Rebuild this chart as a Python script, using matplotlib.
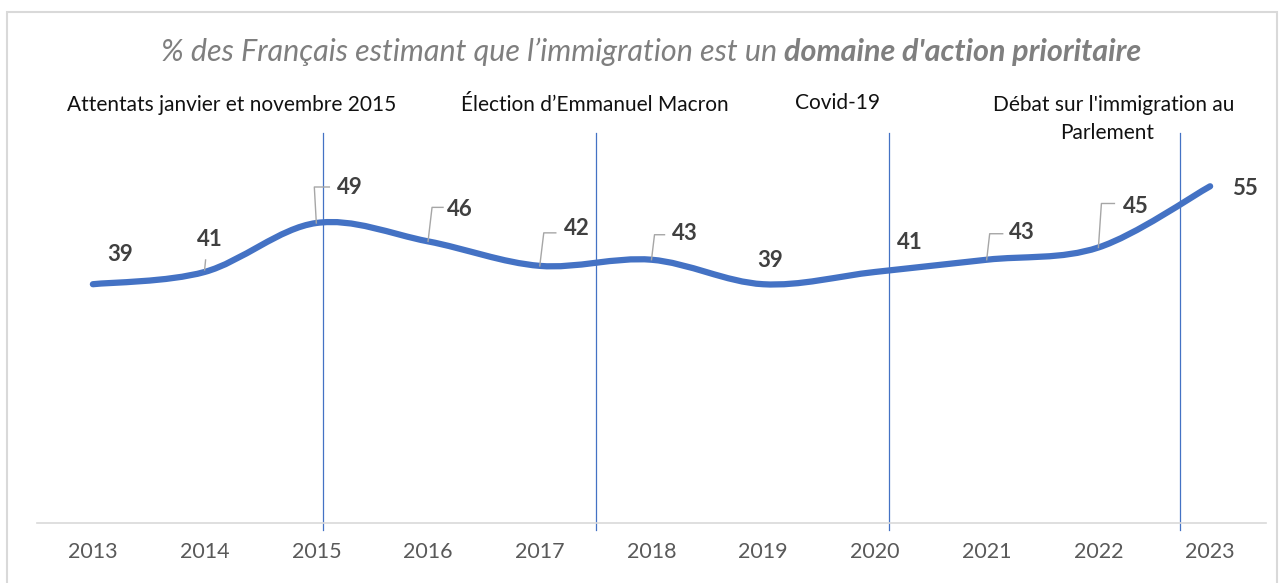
import numpy as np
import matplotlib
matplotlib.use("Agg")
import matplotlib.pyplot as plt
from matplotlib.path import Path
from matplotlib.patches import PathPatch, Rectangle
from matplotlib.lines import Line2D

plt.rcParams['font.family'] = ['Lato', 'DejaVu Sans']

years = ['2013', '2014', '2015', '2016', '2017', '2018', '2019', '2020', '2021', '2022', '2023']
values = [39, 41, 49, 46, 42, 43, 39, 41, 43, 45, 55]

events = ['Attentats janvier et novembre 2015', 'Élection d’Emmanuel Macron', 'Covid-19',
          "Débat sur l'immigration au"]
event_pos = [2.06, 4.5, 7.13, 9.73]

# label offsets in pixels (dx, dy up) from each point
lab_off = [(27, 30), (5, 32), (34, 35), (32, 32), (37, 37), (33, 26),
           (7, 24), (35, 29), (35, 27), (37, 41), (35, -2)]
# leader lines: index -> (corner dx, dy, end dx)
leaders = {1: (1, 12, None), 2: (-2, 36, 13), 3: (4, 34, 15), 4: (4, 33, 16),
           5: (3, 25, 13), 8: (3, 26, 16), 9: (3, 44, 16)}

W, H = 1285, 583
fig = plt.figure(figsize=(W / 100, H / 100), dpi=100)
fig.patches.append(Rectangle((7 / W, -0.1), 1270 / W, (583 - 12) / H + 0.1,
                             transform=fig.transFigure, fill=False,
                             edgecolor='#d9d9d9', lw=1.5))

ax = fig.add_axes([37 / W, (H - 523) / H, 1229 / W, 390 / H])
ax.set_xlim(-0.5, 10.5)
ax.set_ylim(0, 63.7)
for s in ['left', 'right', 'top']:
    ax.spines[s].set_visible(False)
ax.spines['bottom'].set_color('#d9d9d9')
ax.spines['bottom'].set_linewidth(1.2)
ax.set_yticks([])
x = np.arange(len(years))
ax.set_xticks(x)
ax.set_xticklabels(years, fontsize=15.5, color='#595959')
ax.tick_params(axis='x', length=0, pad=14)

# smoothed line (Excel-like bezier)
pts = np.column_stack([x, values]).astype(float)
ext = np.vstack([pts[0], pts, pts[-1]])
verts = [tuple(pts[0])]
codes = [Path.MOVETO]
for i in range(len(pts) - 1):
    p0, p1, p2, p3 = ext[i], ext[i + 1], ext[i + 2], ext[i + 3]
    c1 = p1 + (p2 - p0) / 6
    c2 = p2 - (p3 - p1) / 6
    verts += [tuple(c1), tuple(c2), tuple(p2)]
    codes += [Path.CURVE4] * 3
ax.add_patch(PathPatch(Path(verts, codes), fill=False, edgecolor='#4472c4',
                       lw=4.5, capstyle='round', zorder=3))

# event lines
for p in event_pos:
    ax.plot([p, p], [-1.2, 63.7], color='#4472c4', lw=0.9, clip_on=False, zorder=2)

# data labels and leaders
for i, v in enumerate(values):
    dx, dy = lab_off[i]
    ax.annotate(str(v), (x[i], v), xytext=(dx, dy), textcoords='offset pixels',
                ha='center', va='center', fontsize=16, fontweight='bold',
                color='#404040', zorder=4)
for i, (cx, cy, ex) in leaders.items():
    px, py = ax.transData.transform((x[i], values[i]))
    xs = [px, px + cx]
    ys = [py + (2 if ex is None else 0), py + cy]
    if ex is not None:
        xs.append(px + ex)
        ys.append(py + cy)
    fig.lines.append(Line2D(xs, ys, transform=None, color='#a6a6a6', lw=1.0, zorder=2))

# event texts
ev_xy = [(232, 105), (595, 105), (838, 103), (1114, 105)]
for t, (ex_, ey_) in zip(events, ev_xy):
    fig.text(ex_ / W, 1 - ey_ / H, t, ha='center', va='center', fontsize=15, color='#111111')
fig.text(1107 / W, 1 - 133 / H, 'Parlement', ha='center', va='center', fontsize=15, color='#111111')

# title: regular italic + bold italic part
r = fig.canvas.get_renderer()
t1 = fig.text(0, 1 - 52 / H, '% des Français estimant que l’immigration est un ',
              fontsize=22, style='italic', color='#7f7f7f', va='center')
t2 = fig.text(0, 1 - 52 / H, "domaine d'action prioritaire",
              fontsize=22, style='italic', fontweight='bold', color='#7f7f7f', va='center')
w1 = t1.get_window_extent(r).width
w2 = t2.get_window_extent(r).width
x0 = 651 - (w1 + w2) / 2
t1.set_x(x0 / W)
t2.set_x((x0 + w1) / W)

fig.savefig('out.png', dpi=100)
